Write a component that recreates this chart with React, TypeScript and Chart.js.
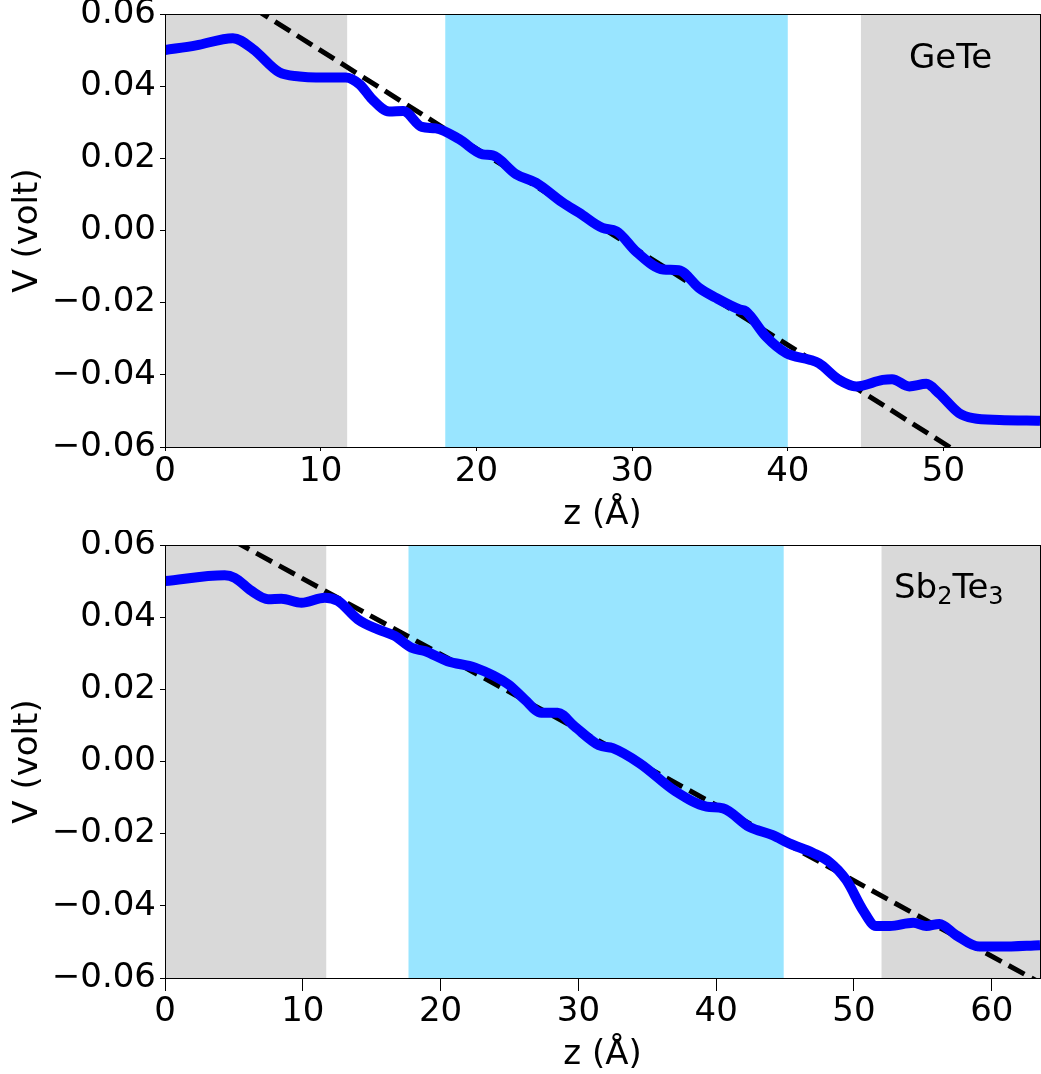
import React, { useEffect, useRef } from "react";
import { Chart, registerables } from "chart.js";
Chart.register(...registerables);

// ---------- data ----------
const topZ = [0, 2.0, 4.36, 5.64, 7.35, 8.64, 9.7, 11.6, 12.5, 13.3, 14.4, 15.3, 16.5, 17.4, 18.9, 20.4, 21.05, 22.55, 23.84, 25.55, 26.6, 28.1, 29.0, 30.3, 32.0, 33.0, 34.3, 35.4, 36.9, 37.3, 38.6, 39.9, 41.4, 42.0, 43.3, 44.4, 46.1, 46.7, 47.8, 48.9, 49.7, 51.0, 51.9, 53.6, 56.2];
const topV = [0.05, 0.0513, 0.0533, 0.0503, 0.0438, 0.0427, 0.0424, 0.0424, 0.0405, 0.0364, 0.033, 0.0331, 0.0287, 0.0283, 0.0253, 0.0211, 0.0208, 0.0156, 0.0132, 0.0077, 0.0049, 0.0007, -0.0002, -0.006, -0.0108, -0.011, -0.0159, -0.0187, -0.0219, -0.0224, -0.0294, -0.034, -0.0358, -0.0368, -0.0414, -0.0432, -0.0414, -0.0412, -0.0432, -0.0425, -0.0451, -0.0506, -0.052, -0.0525, -0.0527];
const topFitZ = [0, 56.2];
const topFitV = [0.0771, -0.0758];

const botZ = [0, 4.33, 5.06, 6.27, 7.48, 8.45, 9.9, 11.6, 12.55, 14.0, 15.46, 16.67, 17.9, 18.85, 20.5, 22.5, 24.9, 26.1, 27.3, 28.5, 29.7, 31.5, 32.5, 34.45, 37.1, 39.3, 40.5, 42.4, 44.1, 45.3, 47.0, 48.2, 49.45, 50.65, 51.6, 52.6, 54.3, 55.25, 56.2, 57.4, 59.1, 60.6, 63.5];
const botV = [0.05, 0.0516, 0.0509, 0.0473, 0.045, 0.0451, 0.044, 0.0454, 0.0445, 0.0394, 0.0366, 0.0348, 0.0315, 0.0306, 0.0278, 0.026, 0.0214, 0.0172, 0.0135, 0.0135, 0.0098, 0.0045, 0.0037, -0.0005, -0.0084, -0.0125, -0.013, -0.0181, -0.0204, -0.0227, -0.0253, -0.0278, -0.0329, -0.0412, -0.0456, -0.0456, -0.0447, -0.0456, -0.045, -0.0481, -0.0513, -0.0513, -0.0509];
const botFitZ = [0, 63.5];
const botFitV = [0.0716, -0.0613];

const topXMax = 56.2;
const botXMax = 63.5;
const xTicksTop = [0, 10, 20, 30, 40, 50];
const xTicksBot = [0, 10, 20, 30, 40, 50, 60];
const yTicks = [-0.06, -0.04, -0.02, 0, 0.02, 0.04, 0.06];

const topGray = [[0, 11.7], [44.7, 56.2]];
const topBlue = [[18.0, 40.0]];
const botGray = [[0, 11.7], [52.0, 63.5]];
const botBlue = [[17.67, 44.9]];

const FONT = "'DejaVu Sans', sans-serif";
const TICK_SIZE = 34;
const LABEL_SIZE = 34;

function fmtY(v: number) {
  const s = Math.abs(v) < 1e-9 ? "0.00" : v.toFixed(2);
  return s.replace("-", "\u2212");
}

type PanelOpts = {
  z: number[];
  v: number[];
  fz: number[];
  fv: number[];
  xMax: number;
  xTicks: number[];
  gray: number[][];
  blue: number[][];
  padTop: number;
  xAxisH: number;
  xTickLen: number;
  label: "GeTe" | "Sb2Te3";
  labelX: number;
  labelY: number;
  zLabelY: number;
};

function makeChart(canvas: HTMLCanvasElement, o: PanelOpts) {
  const regionPlugin = {
    id: "regions",
    beforeDatasetsDraw(chart: any) {
      const { ctx, chartArea } = chart;
      const xs = chart.scales.x;
      ctx.save();
      const fill = (r: number[][], c: string) => {
        ctx.fillStyle = c;
        r.forEach(([a, b]) => {
          const x0 = xs.getPixelForValue(a);
          const x1 = xs.getPixelForValue(b);
          ctx.fillRect(x0, chartArea.top, x1 - x0, chartArea.bottom - chartArea.top);
        });
      };
      fill(o.gray, "rgba(128,128,128,0.3)");
      fill(o.blue, "rgba(0,191,255,0.4)");
      ctx.restore();
    },
    afterDraw(chart: any) {
      const { ctx, chartArea } = chart;
      ctx.save();
      ctx.strokeStyle = "#000";
      ctx.lineWidth = 1;
      ctx.strokeRect(chartArea.left + 0.5, chartArea.top + 0.5, chartArea.right - chartArea.left, chartArea.bottom - chartArea.top);
      ctx.fillStyle = "#000";
      // y axis title
      ctx.save();
      ctx.translate(37, (chartArea.top + chartArea.bottom) / 2);
      ctx.rotate(-Math.PI / 2);
      ctx.font = `${LABEL_SIZE}px ${FONT}`;
      ctx.textAlign = "center";
      ctx.textBaseline = "alphabetic";
      ctx.fillText("V (volt)", 0, 0);
      ctx.restore();
      // x axis title
      ctx.font = `${LABEL_SIZE}px ${FONT}`;
      ctx.textAlign = "center";
      ctx.textBaseline = "alphabetic";
      ctx.fillText("z (\u00C5)", (chartArea.left + chartArea.right) / 2, o.zLabelY);
      // panel label
      ctx.textAlign = "left";
      if (o.label === "GeTe") {
        ctx.font = `${LABEL_SIZE}px ${FONT}`;
        ctx.fillText("GeTe", o.labelX, o.labelY);
      } else {
        const parts: [string, boolean][] = [["Sb", false], ["2", true], ["Te", false], ["3", true]];
        let x = o.labelX;
        parts.forEach(([t, sub]) => {
          ctx.font = `${sub ? Math.round(LABEL_SIZE * 0.7) : LABEL_SIZE}px ${FONT}`;
          ctx.fillText(t, x, o.labelY + (sub ? 6 : 0));
          x += ctx.measureText(t).width;
        });
      }
      ctx.restore();
    },
  };

  return new Chart(canvas, {
    type: "line",
    data: {
      datasets: [
        {
          data: o.z.map((z, i) => ({ x: z, y: o.v[i] })),
          borderColor: "#0000ff",
          borderWidth: 10,
          pointRadius: 0,
          cubicInterpolationMode: "monotone",
          fill: false,
        },
        {
          data: o.fz.map((z, i) => ({ x: z, y: o.fv[i] })),
          borderColor: "#000000",
          borderWidth: 5,
          borderDash: [18, 8],
          pointRadius: 0,
          fill: false,
        },
      ],
    },
    options: {
      animation: false,
      responsive: false,
      devicePixelRatio: 1,
      layout: { padding: { top: o.padTop, right: 1, left: 0, bottom: 0 } },
      plugins: { legend: { display: false }, tooltip: { enabled: false } },
      events: [],
      scales: {
        x: {
          type: "linear",
          min: 0,
          max: o.xMax,
          afterBuildTicks: (s: any) => {
            s.ticks = o.xTicks.map((v) => ({ value: v }));
          },
          afterFit: (s: any) => {
            s.height = o.xAxisH;
            s.paddingLeft = 0;
            s.paddingRight = 0;
            s.paddingTop = 0;
            s.paddingBottom = 0;
          },
          ticks: {
            color: "#000",
            font: { family: FONT, size: TICK_SIZE, lineHeight: 1.1 },
            padding: 2,
            maxRotation: 0,
            autoSkip: false,
            callback: (v: any) => String(v),
          },
          grid: { drawOnChartArea: false, tickLength: o.xTickLen, color: "#000", tickColor: "#000", tickWidth: 1 },
          border: { color: "#000", width: 1 },
        },
        y: {
          type: "linear",
          min: -0.06,
          max: 0.06,
          afterBuildTicks: (s: any) => {
            s.ticks = yTicks.map((v) => ({ value: v }));
          },
          afterFit: (s: any) => {
            s.width = 165;
            s.paddingLeft = 0;
            s.paddingRight = 0;
            s.paddingTop = 0;
            s.paddingBottom = 0;
          },
          ticks: {
            color: "#000",
            font: { family: FONT, size: TICK_SIZE },
            padding: 4,
            autoSkip: false,
            callback: (v: any) => fmtY(Number(v)),
          },
          grid: { drawOnChartArea: false, tickLength: 5, color: "#000", tickColor: "#000", tickWidth: 1 },
          border: { color: "#000", width: 1 },
        },
      },
    },
    plugins: [regionPlugin],
  } as any);
}

export default function App() {
  const refA = useRef<HTMLCanvasElement>(null);
  const refB = useRef<HTMLCanvasElement>(null);

  useEffect(() => {
    const a = makeChart(refA.current!, {
      z: topZ, v: topV, fz: topFitZ, fv: topFitV, xMax: topXMax, xTicks: xTicksTop,
      gray: topGray, blue: topBlue, padTop: 14, xAxisH: 83, xTickLen: 4,
      label: "GeTe", labelX: 909, labelY: 68, zLabelY: 524,
    });
    const b = makeChart(refB.current!, {
      z: botZ, v: botV, fz: botFitZ, fv: botFitV, xMax: botXMax, xTicks: xTicksBot,
      gray: botGray, blue: botBlue, padTop: 15, xAxisH: 96, xTickLen: 13,
      label: "Sb2Te3", labelX: 894, labelY: 68, zLabelY: 1064 - 530,
    });
    return () => {
      a.destroy();
      b.destroy();
    };
  }, []);

  return (
    <div style={{ position: "fixed", left: 0, top: 0, width: 1041, height: 1074, background: "#fff" }}>
      <canvas ref={refA} width={1041} height={530} style={{ position: "absolute", left: 0, top: 0, width: 1041, height: 530 }} />
      <canvas ref={refB} width={1041} height={544} style={{ position: "absolute", left: 0, top: 530, width: 1041, height: 544 }} />
    </div>
  );
}
